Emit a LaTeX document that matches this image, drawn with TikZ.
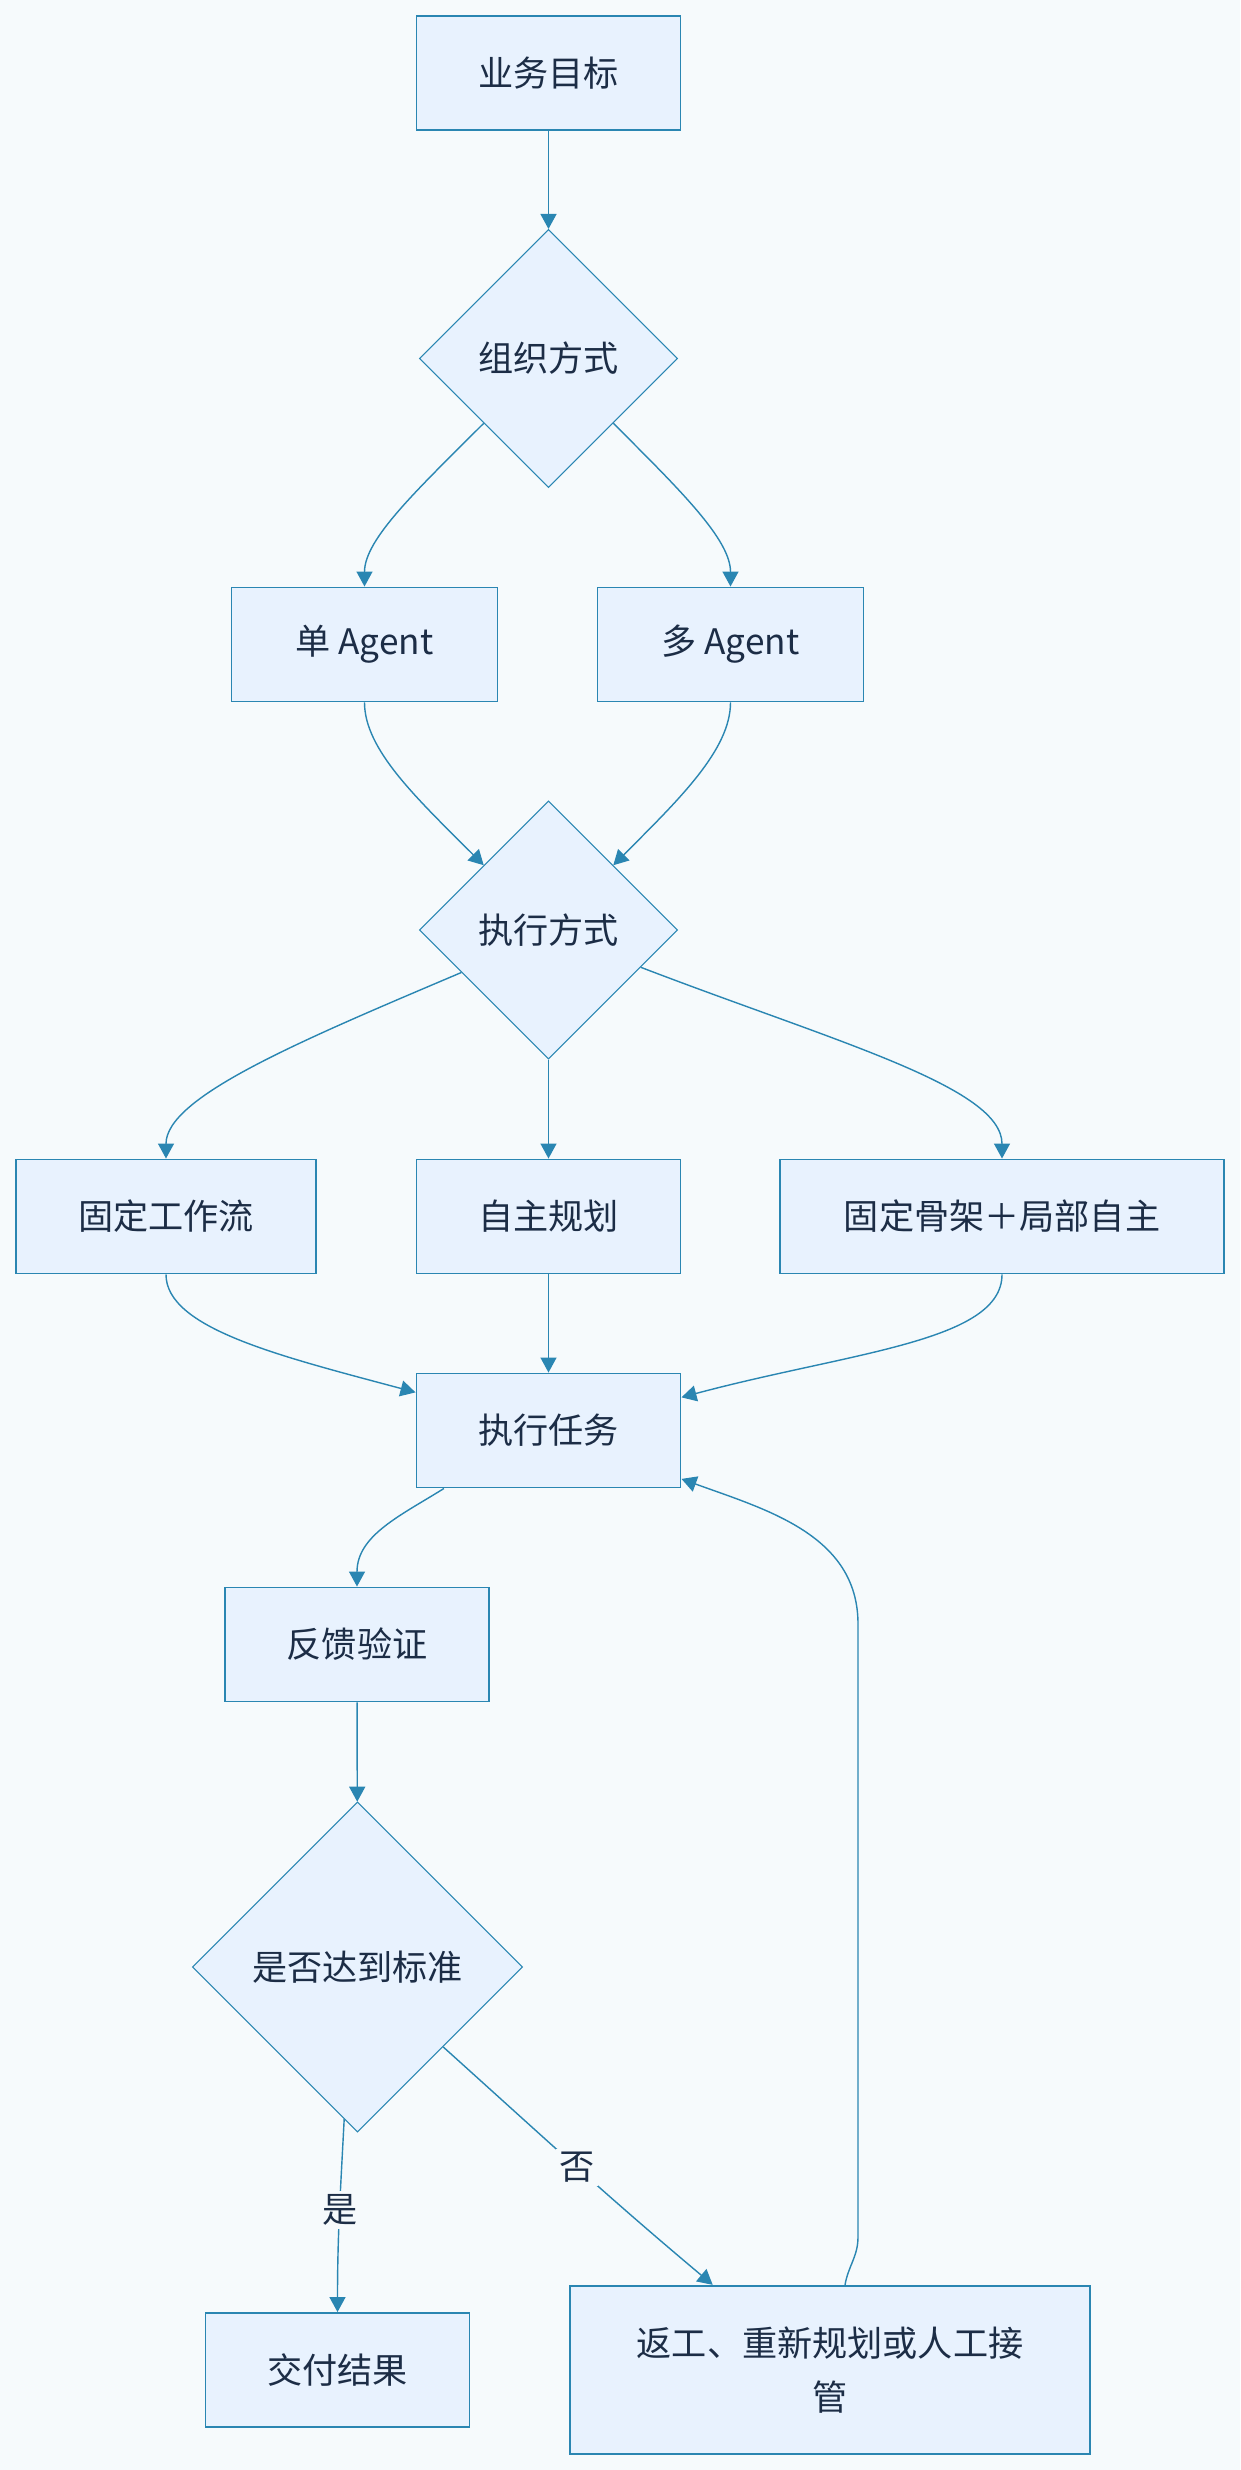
\documentclass[tikz,border=0pt]{standalone}
\usepackage{fontspec}
\setmainfont{Noto Sans CJK SC}
\usetikzlibrary{shapes.geometric, arrows.meta}
\definecolor{bg}{RGB}{246,250,252}
\definecolor{boxfill}{RGB}{232,242,254}
\definecolor{edge}{RGB}{42,134,178}
\definecolor{ink}{RGB}{28,45,70}

\begin{document}
\begin{tikzpicture}[
        font=\fontsize{20pt}{31pt}\selectfont, text=ink,
        >={Triangle[length=0.3cm, width=0.32cm]},
        box/.style={draw=edge, fill=boxfill, line width=1.1pt, align=center, minimum width=5.28cm, minimum height=2.28cm, inner sep=0pt},
        choice/.style={draw=edge, fill=boxfill, line width=0.6pt, diamond, aspect=1, minimum width=5.16cm, minimum height=5.16cm, inner sep=0pt},
        flow/.style={->, draw=edge, line width=0.8pt},
        tag/.style={fill=bg, inner sep=2pt}
    ]
        \fill[bg] (0, 0) rectangle (24.8, -49.4);
        \useasboundingbox (0, 0) rectangle (24.8, -49.4);

        \node[box] (goal) at (10.97, -1.46) {业务目标};
        \node[choice] (org-mode) at (10.97, -7.17) {组织方式};
        \node[box, minimum width=5.32cm] (single-agent) at (7.29, -12.89) {单 Agent};
        \node[box, minimum width=5.32cm] (multi-agent) at (14.61, -12.89) {多 Agent};
        \node[choice] (exec-mode) at (10.97, -18.6) {执行方式};
        \node[box, minimum width=6.0cm] (fixed-flow) at (3.32, -24.33) {固定工作流};
        \node[box] (self-plan) at (10.97, -24.33) {自主规划};
        \node[box, minimum width=8.89cm] (hybrid) at (20.04, -24.33) {固定骨架＋局部自主};
        \node[box] (run-task) at (10.97, -28.61) {执行任务};
        \node[box] (feedback) at (7.14, -32.89) {反馈验证};
        \node[choice, minimum width=6.6cm, minimum height=6.6cm] (check) at (7.15, -39.34) {是否达到标准};
        \node[box] (deliver) at (6.75, -47.4) {交付结果};
        \node[box, minimum width=10.41cm, minimum height=3.37cm] (rework) at (16.6, -47.4) {返工、重新规划或人工接\\管};

        \draw[flow] (goal) -- (org-mode);
        \draw[flow] (org-mode.-135) to[out=-135, in=90, out looseness=1.2, in looseness=0.6] (single-agent.north);
        \draw[flow] (org-mode.-45) to[out=-45, in=90, out looseness=1.2, in looseness=0.6] (multi-agent.north);
        \draw[flow] (single-agent.south) to[out=-90, in=135, out looseness=0.6, in looseness=1.2] (exec-mode.135);
        \draw[flow] (multi-agent.south) to[out=-90, in=45, out looseness=0.6, in looseness=1.2] (exec-mode.45);
        \draw[flow] (exec-mode.-154) to[out=-157, in=90, out looseness=1.3, in looseness=0.45] (fixed-flow.north);
        \draw[flow] (exec-mode) -- (self-plan);
        \draw[flow] (exec-mode.-22) to[out=-21, in=90, out looseness=1.3, in looseness=0.45] (hybrid.north);
        \draw[flow] (fixed-flow.south) to[out=-90, in=165, out looseness=0.5, in looseness=1.3] (run-task.164);
        \draw[flow] (self-plan) -- (run-task);
        \draw[flow] (hybrid.south) to[out=-90, in=15, out looseness=0.5, in looseness=1.3] (run-task.14);
        \draw[flow] (run-task.-151) to[out=-148, in=90] (feedback.north);
        \draw[flow] (feedback) -- (check);
        \draw[flow] (check.-95) to[out=-93, in=90] node[tag, pos=0.47] {是} (deliver.north);
        \draw[flow] (check.-43) to[out=-42, in=140] node[tag, pos=0.5] {否} (rework.144);
        \draw[flow] (rework.80) to[out=80, in=-90] (17.16, -44.74) -- (17.16, -32.48) to[out=90, in=-20] (run-task.-20);
    \end{tikzpicture}
\end{document}
